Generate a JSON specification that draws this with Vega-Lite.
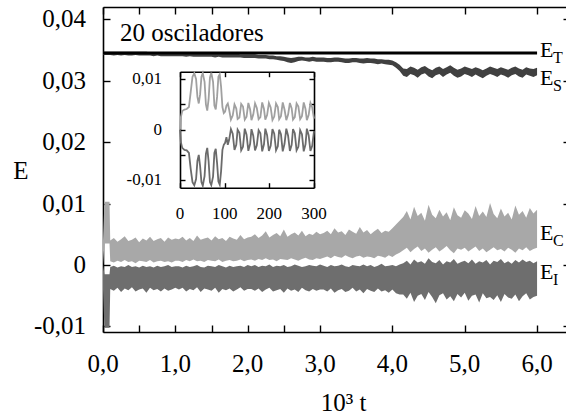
{
"$schema": "https://vega.github.io/schema/vega-lite/v6.json",
"width": 463, "height": 325,
"autosize": {"type": "none"},
"padding": {"left": 103, "top": 7, "right": 0, "bottom": 86},
"background": "white",
"config": {
  "view": {"stroke": null},
  "axis": {"grid": false, "domainColor": "#000", "tickColor": "#000", "labelColor": "#000", "labelFont": "Liberation Serif", "titleFont": "Liberation Serif", "titleColor": "#000", "titleFontWeight": "normal", "domainWidth": 1.6, "tickWidth": 1.4, "labelFlush": false, "labelOverlap": false, "labelBound": false}
},
"datasets": {
"m": [
{"x":0,"ct":0.0040,"cb":0.0000,"it":0.0000,"ib":-0.0040,"st":0.0347,"sb":0.0342},
{"x":0.02,"ct":0.0103,"cb":0.0035,"it":-0.0015,"ib":-0.0102,"st":0.0347,"sb":0.0342},
{"x":0.09,"ct":0.0103,"cb":0.0035,"it":-0.0015,"ib":-0.0102,"st":0.0347,"sb":0.0342},
{"x":0.10,"ct":0.0040,"cb":0.0006,"it":-0.0003,"ib":-0.0039,"st":0.0347,"sb":0.0342},
{"x":0.15,"ct":0.0044,"cb":0.0004,"it":-0.0001,"ib":-0.0042,"st":0.0347,"sb":0.0341},
{"x":0.20,"ct":0.0038,"cb":0.0007,"it":-0.0004,"ib":-0.0037,"st":0.0347,"sb":0.0342},
{"x":0.25,"ct":0.0042,"cb":0.0005,"it":-0.0002,"ib":-0.0044,"st":0.0347,"sb":0.0341},
{"x":0.30,"ct":0.0047,"cb":0.0008,"it":-0.0003,"ib":-0.0038,"st":0.0347,"sb":0.0342},
{"x":0.35,"ct":0.0039,"cb":0.0005,"it":0.0000,"ib":-0.0041,"st":0.0347,"sb":0.0341},
{"x":0.40,"ct":0.0041,"cb":0.0006,"it":-0.0003,"ib":-0.0036,"st":0.0347,"sb":0.0341},
{"x":0.45,"ct":0.0045,"cb":0.0003,"it":-0.0002,"ib":-0.0043,"st":0.0347,"sb":0.0342},
{"x":0.50,"ct":0.0037,"cb":0.0007,"it":-0.0004,"ib":-0.0040,"st":0.0347,"sb":0.0341},
{"x":0.55,"ct":0.0043,"cb":0.0006,"it":-0.0001,"ib":-0.0038,"st":0.0347,"sb":0.0341},
{"x":0.60,"ct":0.0040,"cb":0.0005,"it":-0.0003,"ib":-0.0045,"st":0.0347,"sb":0.0341},
{"x":0.65,"ct":0.0046,"cb":0.0008,"it":-0.0002,"ib":-0.0037,"st":0.0346,"sb":0.0341},
{"x":0.70,"ct":0.0039,"cb":0.0004,"it":-0.0004,"ib":-0.0041,"st":0.0346,"sb":0.0340},
{"x":0.75,"ct":0.0042,"cb":0.0006,"it":-0.0001,"ib":-0.0039,"st":0.0346,"sb":0.0341},
{"x":0.80,"ct":0.0044,"cb":0.0007,"it":-0.0003,"ib":-0.0043,"st":0.0346,"sb":0.0340},
{"x":0.85,"ct":0.0038,"cb":0.0005,"it":-0.0002,"ib":-0.0038,"st":0.0346,"sb":0.0340},
{"x":0.90,"ct":0.0045,"cb":0.0006,"it":0.0000,"ib":-0.0042,"st":0.0346,"sb":0.0340},
{"x":0.95,"ct":0.0041,"cb":0.0004,"it":-0.0003,"ib":-0.0040,"st":0.0346,"sb":0.0340},
{"x":1.00,"ct":0.0043,"cb":0.0007,"it":-0.0002,"ib":-0.0037,"st":0.0346,"sb":0.0340},
{"x":1.05,"ct":0.0042,"cb":0.0007,"it":-0.0002,"ib":-0.0040,"st":0.0346,"sb":0.0340},
{"x":1.10,"ct":0.0046,"cb":0.0005,"it":-0.0004,"ib":-0.0037,"st":0.0345,"sb":0.0340},
{"x":1.15,"ct":0.0040,"cb":0.0008,"it":-0.0001,"ib":-0.0043,"st":0.0345,"sb":0.0339},
{"x":1.20,"ct":0.0044,"cb":0.0006,"it":-0.0003,"ib":-0.0039,"st":0.0345,"sb":0.0340},
{"x":1.25,"ct":0.0039,"cb":0.0009,"it":-0.0002,"ib":-0.0041,"st":0.0345,"sb":0.0339},
{"x":1.30,"ct":0.0048,"cb":0.0006,"it":0.0000,"ib":-0.0036,"st":0.0345,"sb":0.0339},
{"x":1.35,"ct":0.0041,"cb":0.0007,"it":-0.0003,"ib":-0.0044,"st":0.0345,"sb":0.0339},
{"x":1.40,"ct":0.0043,"cb":0.0005,"it":-0.0004,"ib":-0.0038,"st":0.0345,"sb":0.0339},
{"x":1.45,"ct":0.0045,"cb":0.0008,"it":-0.0001,"ib":-0.0040,"st":0.0345,"sb":0.0339},
{"x":1.50,"ct":0.0040,"cb":0.0007,"it":-0.0002,"ib":-0.0042,"st":0.0344,"sb":0.0339},
{"x":1.55,"ct":0.0047,"cb":0.0006,"it":-0.0003,"ib":-0.0037,"st":0.0344,"sb":0.0338},
{"x":1.60,"ct":0.0042,"cb":0.0009,"it":0.0000,"ib":-0.0045,"st":0.0344,"sb":0.0339},
{"x":1.65,"ct":0.0044,"cb":0.0005,"it":-0.0002,"ib":-0.0039,"st":0.0344,"sb":0.0338},
{"x":1.70,"ct":0.0039,"cb":0.0007,"it":-0.0004,"ib":-0.0041,"st":0.0344,"sb":0.0338},
{"x":1.75,"ct":0.0046,"cb":0.0008,"it":-0.0001,"ib":-0.0038,"st":0.0344,"sb":0.0338},
{"x":1.80,"ct":0.0043,"cb":0.0006,"it":-0.0003,"ib":-0.0043,"st":0.0344,"sb":0.0338},
{"x":1.85,"ct":0.0041,"cb":0.0007,"it":-0.0002,"ib":-0.0040,"st":0.0344,"sb":0.0338},
{"x":1.90,"ct":0.0049,"cb":0.0009,"it":-0.0001,"ib":-0.0036,"st":0.0343,"sb":0.0338},
{"x":1.95,"ct":0.0042,"cb":0.0006,"it":-0.0003,"ib":-0.0042,"st":0.0343,"sb":0.0337},
{"x":2.00,"ct":0.0045,"cb":0.0008,"it":0.0000,"ib":-0.0039,"st":0.0343,"sb":0.0337},
{"x":2.05,"ct":0.0046,"cb":0.0009,"it":-0.0002,"ib":-0.0039,"st":0.0343,"sb":0.0337},
{"x":2.10,"ct":0.0050,"cb":0.0007,"it":0.0000,"ib":-0.0042,"st":0.0343,"sb":0.0337},
{"x":2.15,"ct":0.0044,"cb":0.0010,"it":-0.0003,"ib":-0.0038,"st":0.0342,"sb":0.0336},
{"x":2.20,"ct":0.0048,"cb":0.0008,"it":-0.0001,"ib":-0.0044,"st":0.0342,"sb":0.0336},
{"x":2.25,"ct":0.0055,"cb":0.0011,"it":-0.0002,"ib":-0.0040,"st":0.0342,"sb":0.0336},
{"x":2.30,"ct":0.0045,"cb":0.0008,"it":0.0001,"ib":-0.0037,"st":0.0341,"sb":0.0335},
{"x":2.35,"ct":0.0049,"cb":0.0009,"it":-0.0003,"ib":-0.0043,"st":0.0341,"sb":0.0335},
{"x":2.40,"ct":0.0052,"cb":0.0006,"it":-0.0001,"ib":-0.0041,"st":0.0340,"sb":0.0334},
{"x":2.45,"ct":0.0047,"cb":0.0010,"it":-0.0002,"ib":-0.0039,"st":0.0340,"sb":0.0333},
{"x":2.50,"ct":0.0058,"cb":0.0009,"it":0.0000,"ib":-0.0045,"st":0.0339,"sb":0.0332},
{"x":2.55,"ct":0.0046,"cb":0.0008,"it":-0.0003,"ib":-0.0038,"st":0.0338,"sb":0.0330},
{"x":2.60,"ct":0.0050,"cb":0.0011,"it":-0.0002,"ib":-0.0042,"st":0.0337,"sb":0.0329},
{"x":2.65,"ct":0.0053,"cb":0.0009,"it":0.0001,"ib":-0.0040,"st":0.0338,"sb":0.0330},
{"x":2.70,"ct":0.0048,"cb":0.0007,"it":-0.0001,"ib":-0.0044,"st":0.0339,"sb":0.0332},
{"x":2.75,"ct":0.0056,"cb":0.0010,"it":-0.0003,"ib":-0.0037,"st":0.0339,"sb":0.0333},
{"x":2.80,"ct":0.0047,"cb":0.0012,"it":-0.0002,"ib":-0.0041,"st":0.0338,"sb":0.0332},
{"x":2.85,"ct":0.0051,"cb":0.0009,"it":0.0000,"ib":-0.0043,"st":0.0338,"sb":0.0331},
{"x":2.90,"ct":0.0049,"cb":0.0008,"it":-0.0001,"ib":-0.0039,"st":0.0339,"sb":0.0332},
{"x":2.95,"ct":0.0054,"cb":0.0011,"it":-0.0002,"ib":-0.0042,"st":0.0338,"sb":0.0331},
{"x":3.00,"ct":0.0050,"cb":0.0010,"it":0.0001,"ib":-0.0040,"st":0.0338,"sb":0.0331},
{"x":3.05,"ct":0.0052,"cb":0.0012,"it":-0.0001,"ib":-0.0040,"st":0.0338,"sb":0.0331},
{"x":3.10,"ct":0.0056,"cb":0.0014,"it":-0.0003,"ib":-0.0043,"st":0.0337,"sb":0.0330},
{"x":3.15,"ct":0.0050,"cb":0.0011,"it":0.0000,"ib":-0.0038,"st":0.0337,"sb":0.0330},
{"x":3.20,"ct":0.0060,"cb":0.0015,"it":-0.0002,"ib":-0.0045,"st":0.0338,"sb":0.0331},
{"x":3.25,"ct":0.0053,"cb":0.0013,"it":-0.0001,"ib":-0.0041,"st":0.0338,"sb":0.0331},
{"x":3.30,"ct":0.0055,"cb":0.0012,"it":0.0001,"ib":-0.0039,"st":0.0337,"sb":0.0330},
{"x":3.35,"ct":0.0049,"cb":0.0016,"it":-0.0002,"ib":-0.0044,"st":0.0336,"sb":0.0329},
{"x":3.40,"ct":0.0058,"cb":0.0013,"it":-0.0003,"ib":-0.0042,"st":0.0336,"sb":0.0329},
{"x":3.45,"ct":0.0054,"cb":0.0011,"it":0.0000,"ib":-0.0037,"st":0.0337,"sb":0.0330},
{"x":3.50,"ct":0.0051,"cb":0.0014,"it":-0.0001,"ib":-0.0043,"st":0.0337,"sb":0.0330},
{"x":3.55,"ct":0.0062,"cb":0.0015,"it":-0.0002,"ib":-0.0040,"st":0.0336,"sb":0.0329},
{"x":3.60,"ct":0.0053,"cb":0.0012,"it":0.0001,"ib":-0.0046,"st":0.0336,"sb":0.0328},
{"x":3.65,"ct":0.0057,"cb":0.0014,"it":-0.0002,"ib":-0.0039,"st":0.0337,"sb":0.0329},
{"x":3.70,"ct":0.0050,"cb":0.0013,"it":0.0000,"ib":-0.0042,"st":0.0336,"sb":0.0329},
{"x":3.75,"ct":0.0055,"cb":0.0011,"it":-0.0003,"ib":-0.0044,"st":0.0336,"sb":0.0328},
{"x":3.80,"ct":0.0059,"cb":0.0015,"it":-0.0001,"ib":-0.0038,"st":0.0335,"sb":0.0327},
{"x":3.85,"ct":0.0052,"cb":0.0014,"it":0.0002,"ib":-0.0043,"st":0.0335,"sb":0.0328},
{"x":3.90,"ct":0.0056,"cb":0.0012,"it":-0.0002,"ib":-0.0041,"st":0.0334,"sb":0.0327},
{"x":3.95,"ct":0.0054,"cb":0.0016,"it":-0.0001,"ib":-0.0045,"st":0.0334,"sb":0.0326},
{"x":4.00,"ct":0.0060,"cb":0.0013,"it":0.0000,"ib":-0.0040,"st":0.0333,"sb":0.0325},
{"x":4.05,"ct":0.0066,"cb":0.0017,"it":-0.0002,"ib":-0.0046,"st":0.0330,"sb":0.0321},
{"x":4.10,"ct":0.0072,"cb":0.0020,"it":0.0001,"ib":-0.0048,"st":0.0326,"sb":0.0316},
{"x":4.15,"ct":0.0078,"cb":0.0024,"it":0.0003,"ib":-0.0048,"st":0.0320,"sb":0.0308},
{"x":4.20,"ct":0.0088,"cb":0.0028,"it":0.0007,"ib":-0.0055,"st":0.0319,"sb":0.0306},
{"x":4.25,"ct":0.0074,"cb":0.0021,"it":0.0001,"ib":-0.0045,"st":0.0323,"sb":0.0311},
{"x":4.30,"ct":0.0095,"cb":0.0026,"it":0.0009,"ib":-0.0060,"st":0.0321,"sb":0.0309},
{"x":4.35,"ct":0.0080,"cb":0.0030,"it":0.0004,"ib":-0.0050,"st":0.0318,"sb":0.0305},
{"x":4.40,"ct":0.0085,"cb":0.0023,"it":0.0006,"ib":-0.0047,"st":0.0322,"sb":0.0310},
{"x":4.45,"ct":0.0072,"cb":0.0027,"it":0.0002,"ib":-0.0057,"st":0.0324,"sb":0.0312},
{"x":4.50,"ct":0.0098,"cb":0.0020,"it":0.0011,"ib":-0.0044,"st":0.0320,"sb":0.0307},
{"x":4.55,"ct":0.0082,"cb":0.0025,"it":0.0005,"ib":-0.0052,"st":0.0317,"sb":0.0304},
{"x":4.60,"ct":0.0076,"cb":0.0029,"it":0.0003,"ib":-0.0062,"st":0.0321,"sb":0.0309},
{"x":4.65,"ct":0.0090,"cb":0.0022,"it":0.0008,"ib":-0.0049,"st":0.0323,"sb":0.0311},
{"x":4.70,"ct":0.0079,"cb":0.0026,"it":0.0001,"ib":-0.0046,"st":0.0319,"sb":0.0306},
{"x":4.75,"ct":0.0086,"cb":0.0031,"it":0.0006,"ib":-0.0056,"st":0.0322,"sb":0.0310},
{"x":4.80,"ct":0.0073,"cb":0.0024,"it":0.0004,"ib":-0.0051,"st":0.0325,"sb":0.0313},
{"x":4.85,"ct":0.0094,"cb":0.0019,"it":0.0010,"ib":-0.0059,"st":0.0321,"sb":0.0308},
{"x":4.90,"ct":0.0081,"cb":0.0027,"it":0.0002,"ib":-0.0047,"st":0.0318,"sb":0.0305},
{"x":4.95,"ct":0.0077,"cb":0.0025,"it":0.0005,"ib":-0.0053,"st":0.0320,"sb":0.0307},
{"x":5.00,"ct":0.0089,"cb":0.0028,"it":0.0007,"ib":-0.0045,"st":0.0323,"sb":0.0311},
{"x":5.05,"ct":0.0084,"cb":0.0022,"it":0.0003,"ib":-0.0058,"st":0.0321,"sb":0.0309},
{"x":5.10,"ct":0.0075,"cb":0.0026,"it":0.0009,"ib":-0.0050,"st":0.0319,"sb":0.0306},
{"x":5.15,"ct":0.0096,"cb":0.0030,"it":0.0002,"ib":-0.0048,"st":0.0322,"sb":0.0310},
{"x":5.20,"ct":0.0080,"cb":0.0023,"it":0.0006,"ib":-0.0061,"st":0.0320,"sb":0.0307},
{"x":5.25,"ct":0.0087,"cb":0.0027,"it":0.0004,"ib":-0.0046,"st":0.0317,"sb":0.0304},
{"x":5.30,"ct":0.0078,"cb":0.0021,"it":0.0008,"ib":-0.0054,"st":0.0320,"sb":0.0308},
{"x":5.35,"ct":0.0101,"cb":0.0025,"it":0.0001,"ib":-0.0052,"st":0.0323,"sb":0.0311},
{"x":5.40,"ct":0.0083,"cb":0.0029,"it":0.0007,"ib":-0.0057,"st":0.0321,"sb":0.0309},
{"x":5.45,"ct":0.0076,"cb":0.0024,"it":0.0005,"ib":-0.0049,"st":0.0319,"sb":0.0306},
{"x":5.50,"ct":0.0092,"cb":0.0026,"it":0.0010,"ib":-0.0060,"st":0.0322,"sb":0.0310},
{"x":5.55,"ct":0.0079,"cb":0.0022,"it":0.0003,"ib":-0.0047,"st":0.0320,"sb":0.0308},
{"x":5.60,"ct":0.0085,"cb":0.0028,"it":0.0006,"ib":-0.0053,"st":0.0318,"sb":0.0305},
{"x":5.65,"ct":0.0074,"cb":0.0025,"it":0.0002,"ib":-0.0055,"st":0.0321,"sb":0.0309},
{"x":5.70,"ct":0.0097,"cb":0.0020,"it":0.0008,"ib":-0.0048,"st":0.0323,"sb":0.0311},
{"x":5.75,"ct":0.0082,"cb":0.0027,"it":0.0004,"ib":-0.0059,"st":0.0320,"sb":0.0307},
{"x":5.80,"ct":0.0088,"cb":0.0024,"it":0.0009,"ib":-0.0051,"st":0.0318,"sb":0.0305},
{"x":5.85,"ct":0.0077,"cb":0.0029,"it":0.0005,"ib":-0.0046,"st":0.0322,"sb":0.0310},
{"x":5.90,"ct":0.0093,"cb":0.0023,"it":0.0007,"ib":-0.0056,"st":0.0320,"sb":0.0308},
{"x":5.95,"ct":0.0084,"cb":0.0026,"it":0.0003,"ib":-0.0052,"st":0.0319,"sb":0.0306},
{"x":6.00,"ct":0.0090,"cb":0.0028,"it":0.0006,"ib":-0.0050,"st":0.0321,"sb":0.0309}
],
"et": [{"x":0,"y":0.03453},{"x":6.0,"y":0.03453}],
"ins": [
{"t":0,"c":0.0000,"i":0.0000},{"t":2,"c":0.0025,"i":-0.0025},{"t":5,"c":0.0037,"i":-0.0036},{"t":10,"c":0.0040,"i":-0.0040},
{"t":15,"c":0.0041,"i":-0.0041},{"t":20,"c":0.0045,"i":-0.0046},{"t":24,"c":0.0075,"i":-0.0078},{"t":28,"c":0.0105,"i":-0.0104},
{"t":32,"c":0.0112,"i":-0.0110},{"t":36,"c":0.0100,"i":-0.0098},{"t":39,"c":0.0065,"i":-0.0062},{"t":42,"c":0.0052,"i":-0.0050},
{"t":45,"c":0.0070,"i":-0.0072},{"t":48,"c":0.0105,"i":-0.0104},{"t":51,"c":0.0112,"i":-0.0111},{"t":55,"c":0.0095,"i":-0.0092},
{"t":58,"c":0.0050,"i":-0.0048},{"t":61,"c":0.0038,"i":-0.0036},{"t":64,"c":0.0060,"i":-0.0062},{"t":67,"c":0.0103,"i":-0.0104},
{"t":70,"c":0.0113,"i":-0.0110},{"t":74,"c":0.0095,"i":-0.0093},{"t":77,"c":0.0048,"i":-0.0046},{"t":80,"c":0.0040,"i":-0.0038},
{"t":83,"c":0.0065,"i":-0.0066},{"t":86,"c":0.0105,"i":-0.0103},{"t":89,"c":0.0110,"i":-0.0109},{"t":92,"c":0.0085,"i":-0.0082},
{"t":95,"c":0.0045,"i":-0.0040},{"t":98,"c":0.0033,"i":-0.0030},{"t":101,"c":0.0036,"i":-0.0026},{"t":104,"c":0.0048,"i":-0.0015},
{"t":107,"c":0.0052,"i":-0.0030},{"t":110,"c":0.0040,"i":-0.0020},{"t":114,"c":0.0020,"i":0.0001},{"t":118,"c":0.0028,"i":-0.0008},
{"t":122,"c":0.0050,"i":-0.0040},{"t":126,"c":0.0042,"i":-0.0030},{"t":129,"c":0.0021,"i":0.0000},{"t":133,"c":0.0024,"i":-0.0006},
{"t":137,"c":0.0051,"i":-0.0041},{"t":141,"c":0.0046,"i":-0.0034},{"t":145,"c":0.0020,"i":0.0002},{"t":149,"c":0.0026,"i":-0.0010},
{"t":153,"c":0.0053,"i":-0.0042},{"t":157,"c":0.0040,"i":-0.0028},{"t":160,"c":0.0019,"i":0.0001},{"t":164,"c":0.0030,"i":-0.0012},
{"t":168,"c":0.0052,"i":-0.0041},{"t":172,"c":0.0043,"i":-0.0031},{"t":176,"c":0.0021,"i":-0.0001},{"t":180,"c":0.0025,"i":-0.0007},
{"t":184,"c":0.0054,"i":-0.0043},{"t":188,"c":0.0041,"i":-0.0029},{"t":191,"c":0.0020,"i":0.0002},{"t":195,"c":0.0029,"i":-0.0011},
{"t":199,"c":0.0053,"i":-0.0042},{"t":203,"c":0.0044,"i":-0.0032},{"t":207,"c":0.0019,"i":0.0001},{"t":211,"c":0.0026,"i":-0.0008},
{"t":215,"c":0.0052,"i":-0.0041},{"t":219,"c":0.0045,"i":-0.0033},{"t":222,"c":0.0021,"i":0.0000},{"t":226,"c":0.0027,"i":-0.0009},
{"t":230,"c":0.0054,"i":-0.0043},{"t":234,"c":0.0040,"i":-0.0028},{"t":238,"c":0.0019,"i":0.0002},{"t":242,"c":0.0030,"i":-0.0012},
{"t":246,"c":0.0053,"i":-0.0042},{"t":250,"c":0.0042,"i":-0.0030},{"t":253,"c":0.0020,"i":0.0001},{"t":257,"c":0.0025,"i":-0.0007},
{"t":261,"c":0.0052,"i":-0.0041},{"t":265,"c":0.0046,"i":-0.0034},{"t":269,"c":0.0021,"i":-0.0001},{"t":273,"c":0.0027,"i":-0.0009},
{"t":277,"c":0.0054,"i":-0.0043},{"t":281,"c":0.0041,"i":-0.0029},{"t":284,"c":0.0019,"i":0.0002},{"t":288,"c":0.0029,"i":-0.0011},
{"t":292,"c":0.0053,"i":-0.0042},{"t":296,"c":0.0044,"i":-0.0032},{"t":300,"c":0.0022,"i":-0.0003}
],
"lab": [
{"x":6.0,"y":0.0350,"m":"E","s":"T"},
{"x":6.0,"y":0.03044,"m":"E","s":"S"},
{"x":6.0,"y":0.00522,"m":"E","s":"C"},
{"x":6.0,"y":-0.00121,"m":"E","s":"I"}
],
"txt": [{"x":0.235,"y":0.03652,"t":"20 osciladores"}],
"xl": [{"v":0,"l":"0,0"},{"v":1,"l":"1,0"},{"v":2,"l":"2,0"},{"v":3,"l":"3,0"},{"v":4,"l":"4,0"},{"v":5,"l":"5,0"},{"v":6,"l":"6,0"}],
"yl": [{"v":-0.01,"l":"-0,01"},{"v":0,"l":"0"},{"v":0.01,"l":"0,01"},{"v":0.02,"l":"0,02"},{"v":0.03,"l":"0,03"},{"v":0.04,"l":"0,04"}],
"ixl": [{"v":0,"l":"0"},{"v":100,"l":"100"},{"v":200,"l":"200"},{"v":300,"l":"300"}],
"iyl": [{"v":0.01,"l":"0,01"},{"v":0,"l":"0"},{"v":-0.01,"l":"-0,01"}]
},
"layer": [
{
 "resolve": {"axis": {"x": "independent", "y": "independent"}},
 "layer": [
  {"data": {"name": "m"}, "mark": {"type": "area", "color": "#a8a8a8"},
   "encoding": {
    "x": {"field": "x", "type": "quantitative", "scale": {"domain": [0, 6.4], "nice": false, "zero": false}, "axis": null},
    "y": {"field": "ct", "type": "quantitative", "scale": {"domain": [-0.0109, 0.042], "nice": false, "zero": false}, "axis": null},
    "y2": {"field": "cb"}}},
  {"data": {"name": "m"}, "mark": {"type": "area", "color": "#6e6e6e"},
   "encoding": {
    "x": {"field": "x", "type": "quantitative", "scale": {"domain": [0, 6.4], "nice": false, "zero": false}, "axis": null},
    "y": {"field": "it", "type": "quantitative", "scale": {"domain": [-0.0109, 0.042], "nice": false, "zero": false}, "axis": null},
    "y2": {"field": "ib"}}},
  {"data": {"name": "m"}, "mark": {"type": "area", "color": "#404040"},
   "encoding": {
    "x": {"field": "x", "type": "quantitative", "scale": {"domain": [0, 6.4], "nice": false, "zero": false},
          "axis": {"orient": "top", "values": [0, 0.5, 1, 1.5, 2, 2.5, 3, 4, 5, 6], "tickSize": -7, "labels": false, "title": null}},
    "y": {"field": "st", "type": "quantitative", "scale": {"domain": [-0.0109, 0.042], "nice": false, "zero": false},
          "axis": {"orient": "right", "values": [-0.01, 0, 0.01, 0.02, 0.03, 0.04], "tickSize": -3, "labels": false, "domain": false, "title": null}},
    "y2": {"field": "sb"}}},
  {"data": {"name": "et"}, "mark": {"type": "line", "color": "#000", "strokeWidth": 3},
   "encoding": {
    "x": {"field": "x", "type": "quantitative", "scale": {"domain": [0, 6.4], "nice": false, "zero": false},
          "axis": {"orient": "bottom", "values": [0, 0.5, 1, 1.5, 2, 2.5, 3, 4, 5, 6], "tickSize": -7, "labels": false,
                   "title": "10³ t", "titleFont": "Liberation Serif", "titleFontWeight": "normal", "titleColor": "#000", "titleFontSize": 25, "titleX": 240, "titleY": 78, "titleBaseline": "alphabetic", "titleAlign": "center"}},
    "y": {"field": "y", "type": "quantitative", "scale": {"domain": [-0.0109, 0.042], "nice": false, "zero": false},
          "axis": {"orient": "left", "values": [-0.01, 0, 0.01, 0.02, 0.03, 0.04], "tickSize": -7, "labels": false,
                   "title": "E", "titleFont": "Liberation Serif", "titleFontWeight": "normal", "titleColor": "#000", "titleAngle": 0, "titleFontSize": 25, "titleX": -82.5, "titleY": 163.5, "titleBaseline": "middle", "titleAlign": "center"}}}},
  {"data": {"name": "xl"}, "mark": {"type": "text", "align": "center", "baseline": "alphabetic", "dy": 40, "fontSize": 25, "font": "Liberation Serif", "color": "#000"},
   "encoding": {
    "x": {"field": "v", "type": "quantitative", "scale": {"domain": [0, 6.4], "nice": false, "zero": false}, "axis": null},
    "y": {"datum": -0.0109, "type": "quantitative", "scale": {"domain": [-0.0109, 0.042], "nice": false, "zero": false}, "axis": null},
    "text": {"field": "l"}}},
  {"data": {"name": "yl"}, "mark": {"type": "text", "align": "right", "baseline": "middle", "dx": -17, "fontSize": 25, "font": "Liberation Serif", "color": "#000"},
   "encoding": {
    "x": {"datum": 0, "type": "quantitative", "scale": {"domain": [0, 6.4], "nice": false, "zero": false}, "axis": null},
    "y": {"field": "v", "type": "quantitative", "scale": {"domain": [-0.0109, 0.042], "nice": false, "zero": false}, "axis": null},
    "text": {"field": "l"}}},
  {"data": {"name": "lab"}, "mark": {"type": "text", "align": "left", "baseline": "middle", "dx": 3, "fontSize": 22, "font": "Liberation Serif", "color": "#000"},
   "encoding": {
    "x": {"field": "x", "type": "quantitative", "scale": {"domain": [0, 6.4], "nice": false, "zero": false}, "axis": null},
    "y": {"field": "y", "type": "quantitative", "scale": {"domain": [-0.0109, 0.042], "nice": false, "zero": false}, "axis": null},
    "text": {"field": "m"}}},
  {"data": {"name": "lab"}, "mark": {"type": "text", "align": "left", "baseline": "middle", "dx": 16, "dy": 8, "fontSize": 16, "font": "Liberation Serif", "color": "#000"},
   "encoding": {
    "x": {"field": "x", "type": "quantitative", "scale": {"domain": [0, 6.4], "nice": false, "zero": false}, "axis": null},
    "y": {"field": "y", "type": "quantitative", "scale": {"domain": [-0.0109, 0.042], "nice": false, "zero": false}, "axis": null},
    "text": {"field": "s"}}},
  {"data": {"name": "txt"}, "mark": {"type": "text", "align": "left", "baseline": "alphabetic", "fontSize": 25, "font": "Liberation Serif", "color": "#000"},
   "encoding": {
    "x": {"field": "x", "type": "quantitative", "scale": {"domain": [0, 6.4], "nice": false, "zero": false}, "axis": null},
    "y": {"field": "y", "type": "quantitative", "scale": {"domain": [-0.0109, 0.042], "nice": false, "zero": false}, "axis": null},
    "text": {"field": "t"}}}
 ]
},
{
 "resolve": {"axis": {"x": "independent", "y": "independent"}},
 "layer": [
  {"data": {"name": "ins"}, "mark": {"type": "line", "color": "#a0a0a0", "strokeWidth": 1.8},
   "encoding": {
    "x": {"field": "t", "type": "quantitative", "scale": {"domain": [0, 300], "range": [77, 211], "nice": false, "zero": false},
          "axis": {"orient": "bottom", "offset": -144.3, "values": [0, 100, 200, 300], "tickSize": -5, "labels": false, "title": null}},
    "y": {"field": "c", "type": "quantitative", "scale": {"domain": [-0.0115, 0.0115], "range": [180.7, 64.7], "nice": false, "zero": false},
          "axis": {"orient": "left", "offset": -77, "values": [-0.01, -0.005, 0, 0.005, 0.01], "tickSize": -5, "labels": false, "title": null}}}},
  {"data": {"name": "ins"}, "mark": {"type": "line", "color": "#6b6b6b", "strokeWidth": 1.8},
   "encoding": {
    "x": {"field": "t", "type": "quantitative", "scale": {"domain": [0, 300], "range": [77, 211], "nice": false, "zero": false},
          "axis": {"orient": "top", "offset": -64.7, "values": [0, 100, 200, 300], "tickSize": -5, "labels": false, "title": null}},
    "y": {"field": "i", "type": "quantitative", "scale": {"domain": [-0.0115, 0.0115], "range": [180.7, 64.7], "nice": false, "zero": false},
          "axis": {"orient": "right", "offset": -252, "values": [-0.01, -0.005, 0, 0.005, 0.01], "tickSize": -5, "labels": false, "title": null}}}},
  {"data": {"name": "ixl"}, "mark": {"type": "text", "align": "center", "baseline": "alphabetic", "dy": 31.5, "fontSize": 17, "font": "Liberation Serif", "color": "#000"},
   "encoding": {
    "x": {"field": "v", "type": "quantitative", "scale": {"domain": [0, 300], "range": [77, 211], "nice": false, "zero": false}, "axis": null},
    "y": {"datum": -0.0115, "type": "quantitative", "scale": {"domain": [-0.0115, 0.0115], "range": [180.7, 64.7], "nice": false, "zero": false}, "axis": null},
    "text": {"field": "l"}}},
  {"data": {"name": "iyl"}, "mark": {"type": "text", "align": "right", "baseline": "middle", "dx": -18, "fontSize": 17, "font": "Liberation Serif", "color": "#000"},
   "encoding": {
    "x": {"datum": 0, "type": "quantitative", "scale": {"domain": [0, 300], "range": [77, 211], "nice": false, "zero": false}, "axis": null},
    "y": {"field": "v", "type": "quantitative", "scale": {"domain": [-0.0115, 0.0115], "range": [180.7, 64.7], "nice": false, "zero": false}, "axis": null},
    "text": {"field": "l"}}}
 ]
}
],
"resolve": {"scale": {"x": "independent", "y": "independent"}}
}
